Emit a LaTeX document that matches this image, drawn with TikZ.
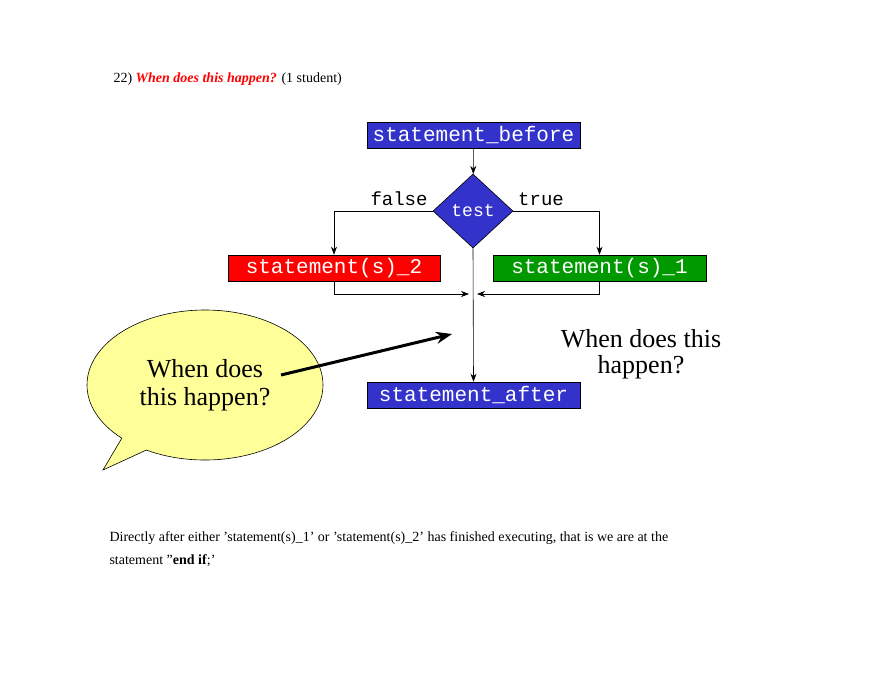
\documentclass[tikz,border=0pt]{standalone}
\usepackage{fontspec}
\setmainfont{Liberation Serif}
\setmonofont{Liberation Mono}
\usetikzlibrary{shapes.geometric,shapes.callouts,arrows.meta}
\definecolor{bbox}{HTML}{3333CC}
\definecolor{rbox}{HTML}{FF0000}
\definecolor{gbox}{HTML}{009900}
\definecolor{yel}{HTML}{FFFF99}
\begin{document}
\begin{tikzpicture}[x=1pt,y=-1pt,
  sbox/.style={draw=black,line width=0.6pt,minimum width=213pt,minimum height=26pt,inner sep=0pt,text=white,font=\fontsize{21}{21}\ttfamily},
  conn/.style={line width=0.6pt},
  arr/.style={conn,-{Stealth[length=8pt,width=6pt]}}]
\useasboundingbox[fill=white] (0,0) rectangle (880,680);
\node[anchor=base west,font=\fontsize{14}{16}\selectfont] (title) at (110,82) {22) \textcolor{red}{\textbf{\textit{When does this happen?}}} (1 student)};
\node[sbox,fill=bbox] (before) at (473.5,135) {statement\_before};
\node[diamond,draw=black,fill=bbox,line width=0.6pt,minimum width=80pt,minimum height=74pt,inner sep=0pt,text=white,font=\fontsize{18}{18}\ttfamily] (test) at (473,211) {test};
\node[font=\fontsize{19}{19}\ttfamily] (false) at (399,199) {false};
\node[font=\fontsize{19}{19}\ttfamily] (true) at (541,199) {true};
\node[sbox,fill=rbox,minimum width=212pt] (s2) at (334,268) {statement(s)\_2};
\node[sbox,fill=gbox] (s1) at (599.5,268) {statement(s)\_1};
\node[sbox,fill=bbox] (after) at (473.5,395) {statement\_after};
\coordinate (join) at (473,294);
\draw[arr] (before) -- (test);
\draw[arr] (test.west) -| (s2.north);
\draw[arr] (test.east) -| (s1.north);
\draw[arr] (s2.south) |- ([xshift=-4pt]join);
\draw[arr] (s1.south) |- ([xshift=4pt]join);
\draw[arr] (test.south) -- (after.north);
\node[align=center,font=\fontsize{26}{26}\selectfont] (q) at (641,354) {When does this\\happen?};
\node[ellipse callout,draw=black,fill=yel,line width=0.6pt,minimum width=236pt,minimum height=150pt,callout absolute pointer={(103,470)},align=center,font=\fontsize{26}{28}\selectfont] (bubble) at (205,385) {When does\\this happen?};
\coordinate (tip) at (452,334);
\draw[line width=3pt,-{Stealth[length=16pt,width=12pt]}] (281,375) -- (tip);
\node[anchor=base west,align=left,font=\fontsize{14}{23}\selectfont] (bottom) at (106,564) {Directly after either 'statement(s)\_1' or 'statement(s)\_2' has finished executing, that is we are at the\\statement "\textbf{end if};'};
\end{tikzpicture}
\end{document}
